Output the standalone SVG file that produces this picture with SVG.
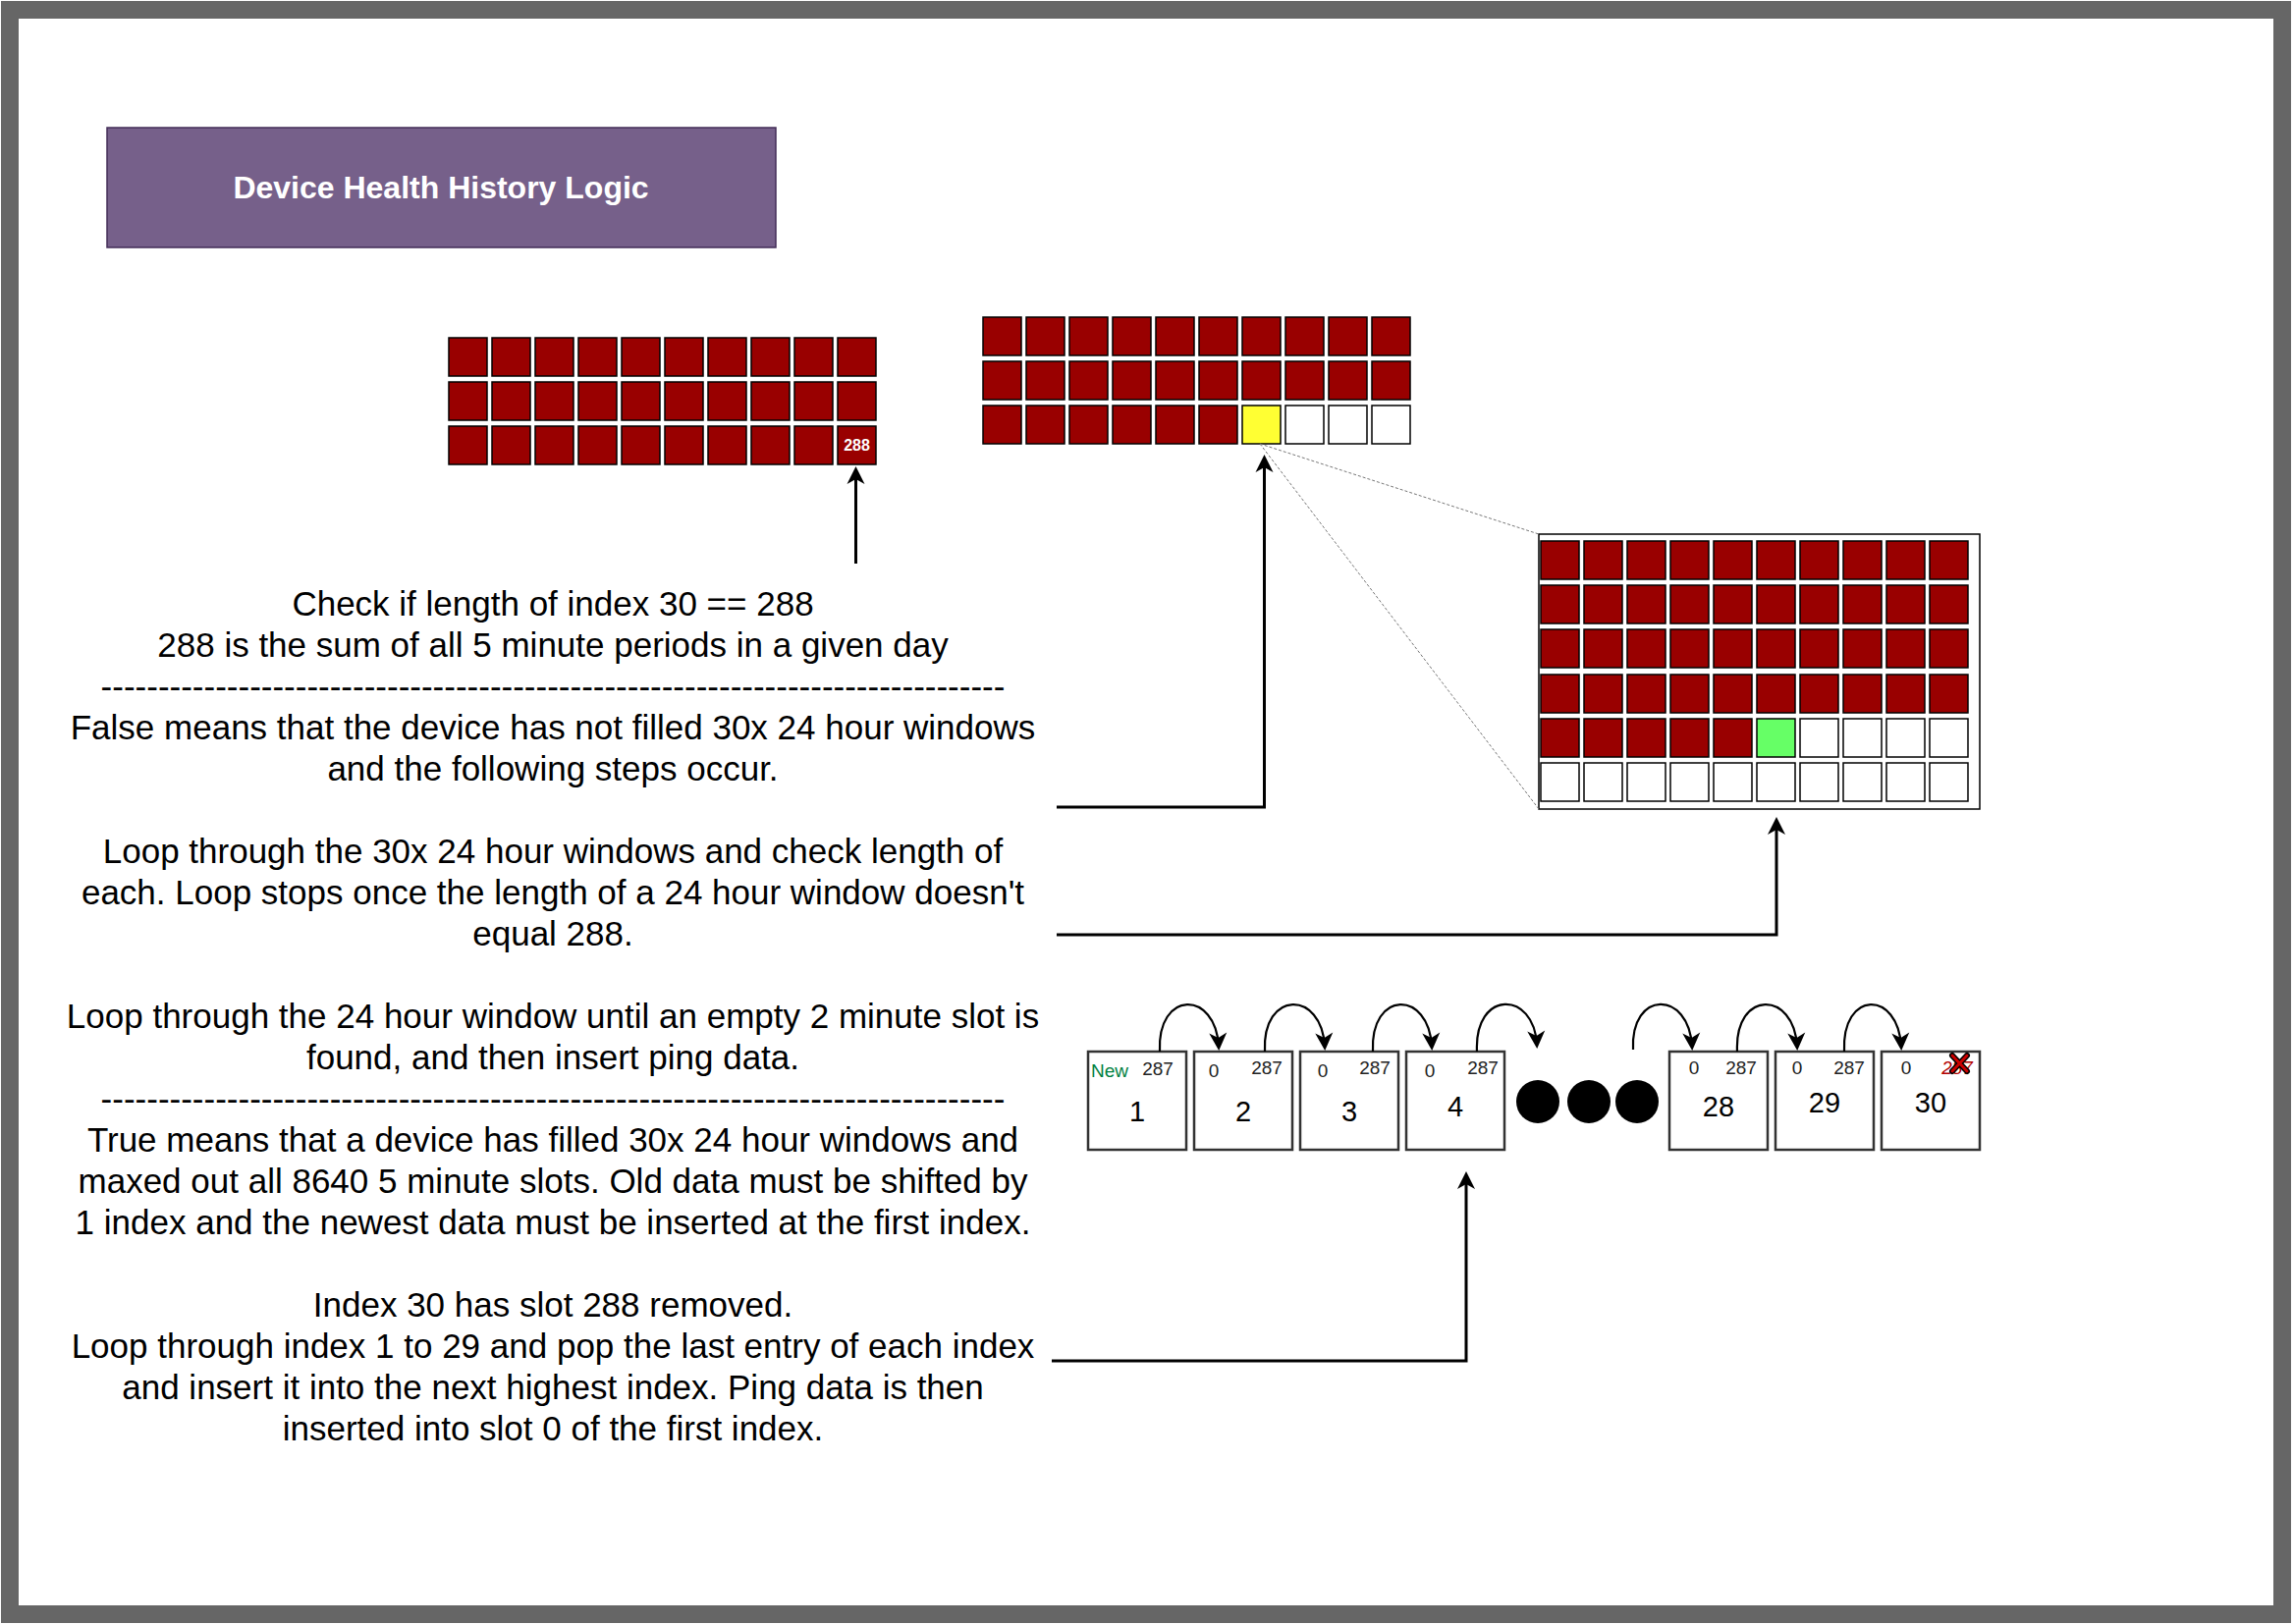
<svg xmlns="http://www.w3.org/2000/svg" width="2336" height="1654" viewBox="0 0 2336 1654">
<defs>
<style>
.r{fill:#990000;stroke:#000;stroke-width:1.5}
.w{fill:#fff;stroke:#000;stroke-width:1.5}
.y{fill:#ffff33;stroke:#000;stroke-width:1.5}
.g{fill:#66ff66;stroke:#000;stroke-width:1.5}
.t{font-family:"Liberation Sans",Arial,Helvetica,sans-serif}
.body{font-size:35px;fill:#000;text-anchor:middle}
.box{fill:#fff;stroke:#333;stroke-width:2.5}
.sm{font-size:19px;fill:#222}
.big{font-size:29px;fill:#000;text-anchor:middle}
.con{fill:none;stroke:#000;stroke-width:3}
.cur{fill:none;stroke:#000;stroke-width:2.2}
.dsh{fill:none;stroke:#777;stroke-width:1;stroke-dasharray:3 2}
</style>
<marker id="ah" markerUnits="userSpaceOnUse" markerWidth="26" markerHeight="26" viewBox="-22 -13 26 26" refX="-4" refY="0" orient="auto">
<path d="M0,0 L-18,-9 L-13,0 L-18,9 Z" fill="#000"/>
</marker>
</defs>
<rect x="0" y="0" width="2336" height="1654" fill="#fff"/>
<rect x="10" y="10" width="2314" height="1634" fill="#fff" stroke="#666" stroke-width="18"/>

<g id="title">
<rect x="109" y="130" width="681" height="122" fill="#76608a" stroke="#432d57" stroke-width="1.5"/>
<text class="t" x="449" y="202" font-size="32" font-weight="bold" fill="#fff" text-anchor="middle">Device Health History Logic</text>
</g>

<g id="grid-full">
<rect class="r" x="457" y="344" width="39" height="39"/><rect class="r" x="501" y="344" width="39" height="39"/><rect class="r" x="545" y="344" width="39" height="39"/><rect class="r" x="589" y="344" width="39" height="39"/><rect class="r" x="633" y="344" width="39" height="39"/><rect class="r" x="677" y="344" width="39" height="39"/><rect class="r" x="721" y="344" width="39" height="39"/><rect class="r" x="765" y="344" width="39" height="39"/><rect class="r" x="809" y="344" width="39" height="39"/><rect class="r" x="853" y="344" width="39" height="39"/>
<rect class="r" x="457" y="389" width="39" height="39"/><rect class="r" x="501" y="389" width="39" height="39"/><rect class="r" x="545" y="389" width="39" height="39"/><rect class="r" x="589" y="389" width="39" height="39"/><rect class="r" x="633" y="389" width="39" height="39"/><rect class="r" x="677" y="389" width="39" height="39"/><rect class="r" x="721" y="389" width="39" height="39"/><rect class="r" x="765" y="389" width="39" height="39"/><rect class="r" x="809" y="389" width="39" height="39"/><rect class="r" x="853" y="389" width="39" height="39"/>
<rect class="r" x="457" y="434" width="39" height="39"/><rect class="r" x="501" y="434" width="39" height="39"/><rect class="r" x="545" y="434" width="39" height="39"/><rect class="r" x="589" y="434" width="39" height="39"/><rect class="r" x="633" y="434" width="39" height="39"/><rect class="r" x="677" y="434" width="39" height="39"/><rect class="r" x="721" y="434" width="39" height="39"/><rect class="r" x="765" y="434" width="39" height="39"/><rect class="r" x="809" y="434" width="39" height="39"/><rect class="r" x="853" y="434" width="39" height="39"/>
<text class="t" x="872.5" y="459" font-size="16" font-weight="bold" fill="#fff" text-anchor="middle">288</text>
</g>

<g id="grid-partial">
<rect class="r" x="1001" y="323" width="39" height="39"/><rect class="r" x="1045" y="323" width="39" height="39"/><rect class="r" x="1089" y="323" width="39" height="39"/><rect class="r" x="1133" y="323" width="39" height="39"/><rect class="r" x="1177" y="323" width="39" height="39"/><rect class="r" x="1221" y="323" width="39" height="39"/><rect class="r" x="1265" y="323" width="39" height="39"/><rect class="r" x="1309" y="323" width="39" height="39"/><rect class="r" x="1353" y="323" width="39" height="39"/><rect class="r" x="1397" y="323" width="39" height="39"/>
<rect class="r" x="1001" y="368" width="39" height="39"/><rect class="r" x="1045" y="368" width="39" height="39"/><rect class="r" x="1089" y="368" width="39" height="39"/><rect class="r" x="1133" y="368" width="39" height="39"/><rect class="r" x="1177" y="368" width="39" height="39"/><rect class="r" x="1221" y="368" width="39" height="39"/><rect class="r" x="1265" y="368" width="39" height="39"/><rect class="r" x="1309" y="368" width="39" height="39"/><rect class="r" x="1353" y="368" width="39" height="39"/><rect class="r" x="1397" y="368" width="39" height="39"/>
<rect class="r" x="1001" y="413" width="39" height="39"/><rect class="r" x="1045" y="413" width="39" height="39"/><rect class="r" x="1089" y="413" width="39" height="39"/><rect class="r" x="1133" y="413" width="39" height="39"/><rect class="r" x="1177" y="413" width="39" height="39"/><rect class="r" x="1221" y="413" width="39" height="39"/><rect class="y" x="1265" y="413" width="39" height="39"/><rect class="w" x="1309" y="413" width="39" height="39"/><rect class="w" x="1353" y="413" width="39" height="39"/><rect class="w" x="1397" y="413" width="39" height="39"/>
</g>

<g id="grid-zoom">
<rect x="1567" y="544" width="449" height="280" fill="#fff" stroke="#000" stroke-width="1.5"/>
<rect class="r" x="1569" y="551" width="39" height="39"/><rect class="r" x="1613" y="551" width="39" height="39"/><rect class="r" x="1657" y="551" width="39" height="39"/><rect class="r" x="1701" y="551" width="39" height="39"/><rect class="r" x="1745" y="551" width="39" height="39"/><rect class="r" x="1789" y="551" width="39" height="39"/><rect class="r" x="1833" y="551" width="39" height="39"/><rect class="r" x="1877" y="551" width="39" height="39"/><rect class="r" x="1921" y="551" width="39" height="39"/><rect class="r" x="1965" y="551" width="39" height="39"/>
<rect class="r" x="1569" y="596" width="39" height="39"/><rect class="r" x="1613" y="596" width="39" height="39"/><rect class="r" x="1657" y="596" width="39" height="39"/><rect class="r" x="1701" y="596" width="39" height="39"/><rect class="r" x="1745" y="596" width="39" height="39"/><rect class="r" x="1789" y="596" width="39" height="39"/><rect class="r" x="1833" y="596" width="39" height="39"/><rect class="r" x="1877" y="596" width="39" height="39"/><rect class="r" x="1921" y="596" width="39" height="39"/><rect class="r" x="1965" y="596" width="39" height="39"/>
<rect class="r" x="1569" y="641" width="39" height="39"/><rect class="r" x="1613" y="641" width="39" height="39"/><rect class="r" x="1657" y="641" width="39" height="39"/><rect class="r" x="1701" y="641" width="39" height="39"/><rect class="r" x="1745" y="641" width="39" height="39"/><rect class="r" x="1789" y="641" width="39" height="39"/><rect class="r" x="1833" y="641" width="39" height="39"/><rect class="r" x="1877" y="641" width="39" height="39"/><rect class="r" x="1921" y="641" width="39" height="39"/><rect class="r" x="1965" y="641" width="39" height="39"/>
<rect class="r" x="1569" y="687" width="39" height="39"/><rect class="r" x="1613" y="687" width="39" height="39"/><rect class="r" x="1657" y="687" width="39" height="39"/><rect class="r" x="1701" y="687" width="39" height="39"/><rect class="r" x="1745" y="687" width="39" height="39"/><rect class="r" x="1789" y="687" width="39" height="39"/><rect class="r" x="1833" y="687" width="39" height="39"/><rect class="r" x="1877" y="687" width="39" height="39"/><rect class="r" x="1921" y="687" width="39" height="39"/><rect class="r" x="1965" y="687" width="39" height="39"/>
<rect class="r" x="1569" y="732" width="39" height="39"/><rect class="r" x="1613" y="732" width="39" height="39"/><rect class="r" x="1657" y="732" width="39" height="39"/><rect class="r" x="1701" y="732" width="39" height="39"/><rect class="r" x="1745" y="732" width="39" height="39"/><rect class="g" x="1789" y="732" width="39" height="39"/><rect class="w" x="1833" y="732" width="39" height="39"/><rect class="w" x="1877" y="732" width="39" height="39"/><rect class="w" x="1921" y="732" width="39" height="39"/><rect class="w" x="1965" y="732" width="39" height="39"/>
<rect class="w" x="1569" y="777" width="39" height="39"/><rect class="w" x="1613" y="777" width="39" height="39"/><rect class="w" x="1657" y="777" width="39" height="39"/><rect class="w" x="1701" y="777" width="39" height="39"/><rect class="w" x="1745" y="777" width="39" height="39"/><rect class="w" x="1789" y="777" width="39" height="39"/><rect class="w" x="1833" y="777" width="39" height="39"/><rect class="w" x="1877" y="777" width="39" height="39"/><rect class="w" x="1921" y="777" width="39" height="39"/><rect class="w" x="1965" y="777" width="39" height="39"/>
</g>

<g id="description" class="t body">
<text x="563" y="627">Check if length of index 30 == 288</text>
<text x="563" y="669">288 is the sum of all 5 minute periods in a given day</text>
<text x="563" y="711">-------------------------------------------------------------------------------</text>
<text x="563" y="753">False means that the device has not filled 30x 24 hour windows</text>
<text x="563" y="795">and the following steps occur.</text>
<text x="563" y="879">Loop through the 30x 24 hour windows and check length of</text>
<text x="563" y="921">each. Loop stops once the length of a 24 hour window doesn't</text>
<text x="563" y="963">equal 288.</text>
<text x="563" y="1047">Loop through the 24 hour window until an empty 2 minute slot is</text>
<text x="563" y="1089">found, and then insert ping data.</text>
<text x="563" y="1131">-------------------------------------------------------------------------------</text>
<text x="563" y="1173">True means that a device has filled 30x 24 hour windows and</text>
<text x="563" y="1215">maxed out all 8640 5 minute slots. Old data must be shifted by</text>
<text x="563" y="1257">1 index and the newest data must be inserted at the first index.</text>
<text x="563" y="1341">Index 30 has slot 288 removed.</text>
<text x="563" y="1383">Loop through index 1 to 29 and pop the last entry of each index</text>
<text x="563" y="1425">and insert it into the next highest index. Ping data is then</text>
<text x="563" y="1467">inserted into slot 0 of the first index.</text>
</g>

<g id="index-1">
<rect class="box" x="1108" y="1071" width="100" height="100"/>
<text class="t sm" x="1111" y="1097" style="fill:#007f3f">New</text>
<text class="t sm" x="1179" y="1095" text-anchor="middle">287</text>
<text class="t big" x="1158" y="1142">1</text>
</g>
<g id="index-2">
<rect class="box" x="1216" y="1071" width="100" height="100"/>
<text class="t sm" x="1236" y="1097" text-anchor="middle">0</text>
<text class="t sm" x="1290" y="1094" text-anchor="middle">287</text>
<text class="t big" x="1266" y="1142">2</text>
</g>
<g id="index-3">
<rect class="box" x="1324" y="1071" width="100" height="100"/>
<text class="t sm" x="1347" y="1097" text-anchor="middle">0</text>
<text class="t sm" x="1400" y="1094" text-anchor="middle">287</text>
<text class="t big" x="1374" y="1142">3</text>
</g>
<g id="index-4">
<rect class="box" x="1432" y="1071" width="100" height="100"/>
<text class="t sm" x="1456" y="1097" text-anchor="middle">0</text>
<text class="t sm" x="1510" y="1094" text-anchor="middle">287</text>
<text class="t big" x="1482" y="1137">4</text>
</g>
<g id="ellipsis">
<circle cx="1566" cy="1122" r="22" fill="#000"/>
<circle cx="1618" cy="1122" r="22" fill="#000"/>
<circle cx="1667" cy="1122" r="22" fill="#000"/>
</g>
<g id="index-28">
<rect class="box" x="1700" y="1071" width="100" height="100"/>
<text class="t sm" x="1725" y="1094" text-anchor="middle">0</text>
<text class="t sm" x="1773" y="1094" text-anchor="middle">287</text>
<text class="t big" x="1750" y="1137">28</text>
</g>
<g id="index-29">
<rect class="box" x="1808" y="1071" width="100" height="100"/>
<text class="t sm" x="1830" y="1094" text-anchor="middle">0</text>
<text class="t sm" x="1883" y="1094" text-anchor="middle">287</text>
<text class="t big" x="1858" y="1133">29</text>
</g>
<g id="index-30">
<rect class="box" x="1916" y="1071" width="100" height="100"/>
<text class="t sm" x="1941" y="1094" text-anchor="middle">0</text>
<text class="t sm" x="1993" y="1094" text-anchor="middle" font-style="italic" style="fill:#b20000">287</text>
<path d="M1988,1075 L2003,1091 M2003,1075 L1988,1091" stroke="#000" stroke-width="6" stroke-linecap="round" fill="none"/>
<path d="M1988,1075 L2003,1091 M2003,1075 L1988,1091" stroke="#cc0000" stroke-width="3" stroke-linecap="round" fill="none"/>
<text class="t big" x="1966" y="1133">30</text>
</g>

<g id="connectors">
<line class="dsh" x1="1283" y1="452" x2="1567" y2="544"/>
<line class="dsh" x1="1283" y1="452" x2="1567" y2="824"/>
<path class="con" d="M871.5,574 V479" marker-end="url(#ah)"/>
<path class="con" d="M1076,822 H1287.5 V467" marker-end="url(#ah)"/>
<path class="con" d="M1076,952 H1809 V836" marker-end="url(#ah)"/>
<path class="con" d="M1071,1386 H1493 V1197" marker-end="url(#ah)"/>
<path class="cur" d="M1181,1071 C1178,1008 1238,1008 1241,1066" marker-end="url(#ah)"/>
<path class="cur" d="M1288,1071 C1285,1008 1346,1008 1349,1066" marker-end="url(#ah)"/>
<path class="cur" d="M1398,1071 C1395,1008 1455,1008 1458,1066" marker-end="url(#ah)"/>
<path class="cur" d="M1504,1071 C1501,1008 1562,1008 1565,1064" marker-end="url(#ah)"/>
<path class="cur" d="M1663,1069 C1660,1008 1720,1008 1723,1066" marker-end="url(#ah)"/>
<path class="cur" d="M1769,1071 C1766,1008 1827,1008 1830,1066" marker-end="url(#ah)"/>
<path class="cur" d="M1878,1071 C1875,1008 1933,1008 1936,1066" marker-end="url(#ah)"/>
</g>
</svg>
